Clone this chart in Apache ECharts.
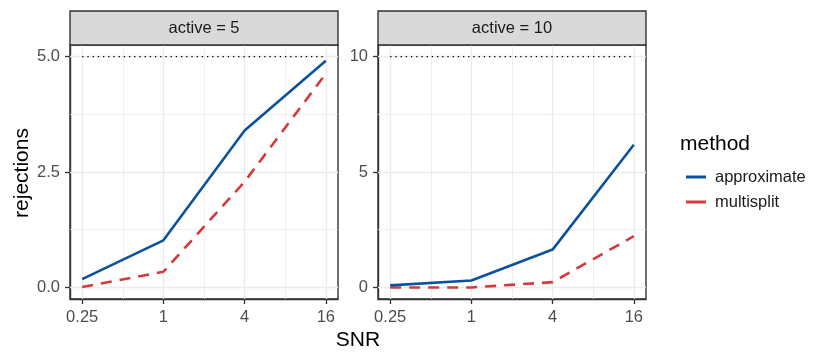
<!DOCTYPE html>
<html>
<head>
<meta charset="utf-8">
<script src="https://cdn.jsdelivr.net/npm/echarts@6/dist/echarts.min.js"></script>
<style>html,body{margin:0;padding:0;background:#fff}#c{width:830px;height:363px}</style>
</head>
<body>
<div id="c"></div>
<script>
// ---- data ----
const snr = [0.25, 1, 4, 16];
const snrTickLabels = ['0.25', '1', '4', '16'];
const panelTitles = ['active = 5', 'active = 10'];
const activeValues = [5, 10];
const methods = ['approximate', 'multisplit'];
const approx5 = [0.18, 1.02, 3.40, 4.91];
const multi5 = [0.01, 0.34, 2.29, 4.63];
const approx10 = [0.09, 0.30, 1.64, 6.18];
const multi10 = [0.00, 0.00, 0.23, 2.22];
const yTicks5 = [0, 2.5, 5];
const yTickLabels5 = ['0.0', '2.5', '5.0'];
const yTicks10 = [0, 5, 10];
const yTickLabels10 = ['0', '5', '10'];

// ---- styling / layout ----
const FONT = "'Liberation Sans', Arial, sans-serif";
const colors = {approximate: '#0b529e', multisplit: '#d6393a'};
const gridColor = '#ebebeb';
const panels = [
  {left: 70, top: 45, width: 268, height: 254},
  {left: 378, top: 45, width: 268, height: 254}
];

const lx = snr.map(v => Math.log2(v));
const xMinor = lx.slice(1).map((v, i) => (v + lx[i]) / 2);
function expand(lo, hi) { const d = (hi - lo) * 0.05; return [lo - d, hi + d]; }
const xr = expand(lx[0], lx[lx.length - 1]);

const yAll = [
  {ticks: yTicks5, labels: yTickLabels5, approx: approx5, multi: multi5},
  {ticks: yTicks10, labels: yTickLabels10, approx: approx10, multi: multi10}
];

const grids = [], xAxes = [], yAxes = [], series = [], graphics = [];
const axisLineStyle = {show: true, onZero: false, lineStyle: {color: '#333333', width: 1.4}};

yAll.forEach((p, i) => {
  const yr = expand(p.ticks[0], p.ticks[p.ticks.length - 1]);
  const yMinor = p.ticks.slice(1).map((v, k) => (v + p.ticks[k]) / 2);
  grids.push(Object.assign({show: true, borderColor: '#333333', borderWidth: 1.4, backgroundColor: '#fff'}, panels[i]));
  xAxes.push({
    type: 'value', gridIndex: i, min: xr[0], max: xr[1], position: 'bottom',
    axisLine: axisLineStyle, splitLine: {show: false},
    axisTick: {show: true, inside: false, customValues: lx, length: 5, lineStyle: {color: '#333333', width: 1.3}},
    axisLabel: {customValues: lx, margin: 10, color: '#4d4d4d', fontSize: 16.5, fontFamily: FONT,
      formatter: v => { const k = lx.findIndex(t => Math.abs(t - v) < 1e-9); return k >= 0 ? snrTickLabels[k] : ''; }}
  });
  yAxes.push({
    type: 'value', gridIndex: i, min: yr[0], max: yr[1], position: 'left',
    axisLine: axisLineStyle, splitLine: {show: false},
    axisTick: {show: true, inside: false, customValues: p.ticks, length: 5, lineStyle: {color: '#333333', width: 1.3}},
    axisLabel: {customValues: p.ticks, margin: 10, color: '#4d4d4d', fontSize: 16.5, fontFamily: FONT,
      formatter: v => { const k = p.ticks.findIndex(t => Math.abs(t - v) < 1e-9); return k >= 0 ? p.labels[k] : ''; }}
  });
  // gridlines
  const gl = [];
  p.ticks.forEach(v => gl.push({yAxis: v, lineStyle: {color: gridColor, width: 1.3, type: 'solid'}}));
  yMinor.forEach(v => gl.push({yAxis: v, lineStyle: {color: gridColor, width: 0.8, type: 'solid'}}));
  lx.forEach(v => gl.push({xAxis: v, lineStyle: {color: gridColor, width: 1.3, type: 'solid'}}));
  xMinor.forEach(v => gl.push({xAxis: v, lineStyle: {color: gridColor, width: 0.8, type: 'solid'}}));
  series.push({
    type: 'line', xAxisIndex: i, yAxisIndex: i, data: [], z: 1, silent: true,
    markLine: {z: 1, silent: true, symbol: ['none', 'none'], label: {show: false}, animation: false, data: gl}
  });
  // target dotted line
  series.push({
    type: 'line', xAxisIndex: i, yAxisIndex: i, z: 2, silent: true, symbol: 'none',
    data: [[lx[0], activeValues[i]], [lx[lx.length - 1], activeValues[i]]],
    lineStyle: {color: '#000', width: 1.3, type: [1.3, 3.9]}
  });
  series.push({
    name: 'approximate', type: 'line', xAxisIndex: i, yAxisIndex: i, z: 4, symbol: 'none',
    data: lx.map((x, k) => [x, p.approx[k]]),
    color: colors.approximate, lineStyle: {color: colors.approximate, width: 2.6}
  });
  series.push({
    name: 'multisplit', type: 'line', xAxisIndex: i, yAxisIndex: i, z: 3, symbol: 'none',
    data: lx.map((x, k) => [x, p.multi[k]]),
    color: colors.multisplit, lineStyle: {color: colors.multisplit, width: 2.6, type: [11, 8]}
  });
  // strip
  graphics.push({type: 'rect', shape: {x: panels[i].left, y: 11, width: panels[i].width, height: 34},
    style: {fill: '#d9d9d9', stroke: '#333333', lineWidth: 1.4}, z: 10});
  graphics.push({type: 'text', x: panels[i].left + panels[i].width / 2, y: 28, z: 11,
    style: {text: panelTitles[i], fill: '#1a1a1a', font: '16.5px ' + FONT, textAlign: 'center', textVerticalAlign: 'middle'}});
});

graphics.push({type: 'text', x: 22, y: 173, rotation: Math.PI / 2,
  style: {text: 'rejections', fill: '#000', font: '21px ' + FONT, textAlign: 'center', textVerticalAlign: 'middle'}});
graphics.push({type: 'text', x: 358, y: 340,
  style: {text: 'SNR', fill: '#000', font: '21px ' + FONT, textAlign: 'center', textVerticalAlign: 'middle'}});
graphics.push({type: 'text', x: 680, y: 144,
  style: {text: 'method', fill: '#000', font: '21px ' + FONT, textAlign: 'left', textVerticalAlign: 'middle'}});

const chart = echarts.init(document.getElementById('c'), null, {renderer: 'canvas'});
chart.setOption({
  animation: false,
  backgroundColor: '#fff',
  grid: grids, xAxis: xAxes, yAxis: yAxes, series: series,
  legend: {
    data: methods.map(m => ({name: m, icon: 'rect', itemStyle: {color: colors[m]}})),
    orient: 'vertical', left: 681, top: 163, itemWidth: 20, itemHeight: 3, itemGap: 7,
    textStyle: {fontSize: 16.5, fontFamily: FONT, color: '#1a1a1a', lineHeight: 18, padding: [0, 0, 0, 4]},
    selectedMode: false
  },
  graphic: graphics
});
</script>
</body>
</html>
